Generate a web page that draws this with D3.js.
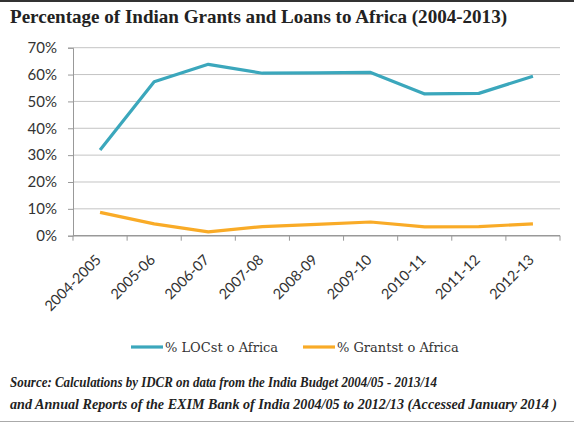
<!DOCTYPE html>
<html>
<head>
<meta charset="utf-8">
<script src="https://cdn.jsdelivr.net/npm/d3@7"></script>
<style>
  html, body { margin: 0; padding: 0; background: #fff; }
  svg { display: block; }
</style>
</head>
<body>
<svg id="chart" width="574" height="423"></svg>
<script>
// Fiscal years on the x axis
const years = ["2004-2005", "2005-06", "2006-07", "2007-08", "2008-09", "2009-10", "2010-11", "2011-12", "2012-13"];
// Share of lines of credit going to Africa (%)
const locShare = [31.9, 57.3, 63.8, 60.5, 60.6, 60.8, 52.8, 53.0, 59.4];
// Share of grants going to Africa (%)
const grantShare = [8.7, 4.4, 1.4, 3.4, 4.2, 5.1, 3.3, 3.4, 4.4];
// Y tick values (%)
const yTicks = [0, 10, 20, 30, 40, 50, 60, 70];
const seriesNames = ["% LOCst o Africa", "% Grantst o Africa"];
const seriesColors = ["#3ba7bc", "#f9ab27"];

const svg = d3.select("#chart");
const W = 574, H = 423;
const plotLeft = 73, plotRight = 560, plotTop = 47.7, plotBottom = 235.7;
const serif = "'Liberation Serif', 'Times New Roman', serif";
const sans = "Lato, 'Open Sans', sans-serif";

// Frame lines
svg.append("line").attr("x1", 0).attr("x2", W).attr("y1", 1).attr("y2", 1)
  .attr("stroke", "#333").attr("stroke-width", 2);
svg.append("line").attr("x1", 0).attr("x2", W).attr("y1", 421.5).attr("y2", 421.5)
  .attr("stroke", "#aaa").attr("stroke-width", 1);

// Title
svg.append("text").attr("x", 10).attr("y", 23)
  .attr("font-family", serif)
  .attr("font-weight", "bold").attr("font-size", 19).attr("fill", "#222")
  .attr("textLength", 497).attr("lengthAdjust", "spacingAndGlyphs")
  .text("Percentage of Indian Grants and Loans to Africa (2004-2013)");

const x = d3.scaleBand().domain(years).range([plotLeft, plotRight]);
const y = d3.scaleLinear().domain([0, 70]).range([plotBottom, plotTop]);

// Gridlines
svg.append("g").selectAll("line").data(yTicks.filter(d => d > 0)).join("line")
  .attr("x1", plotLeft).attr("x2", plotRight)
  .attr("y1", d => y(d)).attr("y2", d => y(d))
  .attr("stroke", "#c4c4c4").attr("stroke-width", 1);

// Y axis
const yAxis = svg.append("g").attr("transform", `translate(${plotLeft},0)`)
  .call(d3.axisLeft(y).tickValues(yTicks).tickFormat(d => d + "%").tickSize(5).tickPadding(11));
yAxis.select(".domain").attr("stroke", "#999");
yAxis.selectAll(".tick line").attr("stroke", "#999");
yAxis.selectAll("text").attr("font-family", sans)
  .attr("font-size", 15).attr("fill", "#333");

// X axis with ticks at category boundaries
const xAxis = svg.append("g").attr("transform", `translate(0,${plotBottom})`);
xAxis.append("line").attr("x1", plotLeft).attr("x2", plotRight).attr("y1", 0).attr("y2", 0)
  .attr("stroke", "#999").attr("stroke-width", 1.5);
const boundaries = years.map(d => x(d)).concat([x(years[years.length - 1]) + x.bandwidth()]);
xAxis.selectAll(".bt").data(boundaries).join("line")
  .attr("x1", d => d).attr("x2", d => d).attr("y1", 0).attr("y2", 5)
  .attr("stroke", "#999");
xAxis.selectAll(".lbl").data(years).join("text")
  .attr("transform", d => `translate(${x(d) + x.bandwidth() / 2 + 2},${25}) rotate(-45)`)
  .attr("text-anchor", "end")
  .attr("font-family", sans)
  .attr("font-size", 14.5).attr("fill", "#333")
  .text(d => d);

// Lines
const line = d3.line().x((d, i) => x(years[i]) + x.bandwidth() / 2).y(d => y(d));
[locShare, grantShare].forEach((s, i) => {
  svg.append("path").datum(s).attr("d", line)
    .attr("fill", "none").attr("stroke", seriesColors[i])
    .attr("stroke-width", 3.2).attr("stroke-linejoin", "round");
});

// Legend
const legendX = [131, 303];
seriesNames.forEach((n, i) => {
  const g = svg.append("g").attr("transform", `translate(${legendX[i]},347)`);
  g.append("line").attr("x1", 0).attr("x2", 32).attr("y1", 0).attr("y2", 0)
    .attr("stroke", seriesColors[i]).attr("stroke-width", 3.2);
  g.append("text").attr("x", 34).attr("y", 5)
    .attr("font-family", "'DejaVu Serif', serif").attr("font-size", 13)
    .attr("fill", "#333").text(n);
});

// Source note
const src = svg.append("g").attr("font-family", serif)
  .attr("font-weight", "bold").attr("font-style", "italic").attr("font-size", 14).attr("fill", "#222")
  .attr("xml:space", "preserve").style("white-space", "pre");
src.append("text").attr("x", 10).attr("y", 387)
  .attr("textLength", 427).attr("lengthAdjust", "spacingAndGlyphs")
  .text("Source: Calculations by IDCR on data from  the India Budget 2004/05 - 2013/14");
src.append("text").attr("x", 10).attr("y", 409)
  .attr("textLength", 547).attr("lengthAdjust", "spacingAndGlyphs")
  .text("and Annual Reports of the EXIM Bank of India 2004/05 to 2012/13 (Accessed January 2014 )");
</script>
</body>
</html>
